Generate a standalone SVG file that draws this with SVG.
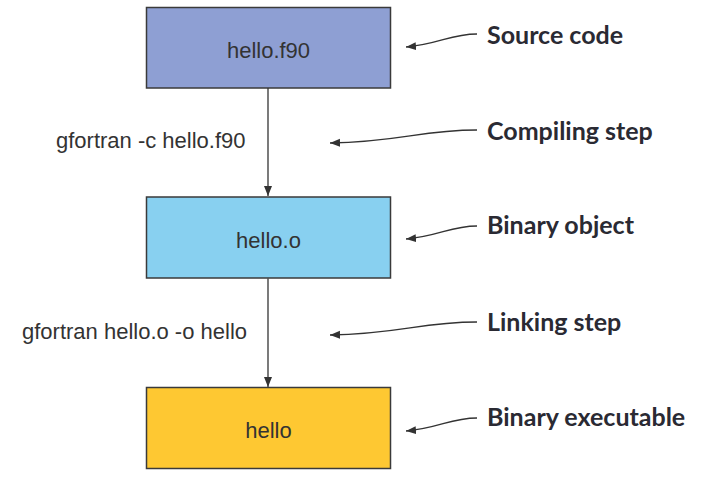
<svg xmlns="http://www.w3.org/2000/svg" width="706" height="484" viewBox="0 0 706 484">
<style>
.box{stroke:#3a3a3a;stroke-width:1.5}
.t{font-family:"Liberation Sans",Arial,sans-serif;font-size:22px;fill:#333}
.n{font-family:Lato,"Open Sans",sans-serif;font-weight:bold;font-size:25px;fill:#2a2a33}
.c{stroke:#333;stroke-width:1.3;fill:none}
</style>
<defs>
<marker id="ah" viewBox="0 0 10 10" refX="10" refY="5" markerWidth="10" markerHeight="10" markerUnits="userSpaceOnUse" orient="auto">
<path d="M0,1 L10,5 L0,9 Z" fill="#333"/>
</marker>
</defs>
<rect width="706" height="484" fill="#fff"/>
<g id="source">
<rect class="box" x="146.5" y="7.5" width="244" height="80.5" fill="#8e9fd3"/>
<text class="t" x="268.5" y="58" text-anchor="middle">hello.f90</text>
</g>
<g id="object">
<rect class="box" x="146.5" y="197" width="244" height="81" fill="#88d0f0"/>
<text class="t" x="268.5" y="248" text-anchor="middle">hello.o</text>
</g>
<g id="exec">
<rect class="box" x="146.5" y="387.5" width="244" height="81" fill="#fec832"/>
<text class="t" x="268.5" y="437.5" text-anchor="middle">hello</text>
</g>
<g id="labels">
<text class="t" x="56" y="147.5">gfortran -c hello.f90</text>
<text class="t" x="22" y="338.5">gfortran hello.o -o hello</text>
<text class="n" x="487" y="44">Source code</text>
<text class="n" x="487" y="140">Compiling step</text>
<text class="n" x="487" y="234">Binary object</text>
<text class="n" x="487" y="331">Linking step</text>
<text class="n" x="487" y="426">Binary executable</text>
</g>
<g id="connectors">
<line class="c" x1="268" y1="88" x2="268" y2="196" marker-end="url(#ah)"/>
<line class="c" x1="268" y1="278.5" x2="268" y2="387" marker-end="url(#ah)"/>
<path class="c" d="M477,34 C450,34 440,44 406,47" marker-end="url(#ah)"/>
<path class="c" d="M477,130 C420,130 400,142 330,143" marker-end="url(#ah)"/>
<path class="c" d="M477,226 C450,226 440,236 406,239" marker-end="url(#ah)"/>
<path class="c" d="M477,322 C420,322 400,334 330,335" marker-end="url(#ah)"/>
<path class="c" d="M477,418 C450,418 440,428 406,431" marker-end="url(#ah)"/>
</g>
</svg>
